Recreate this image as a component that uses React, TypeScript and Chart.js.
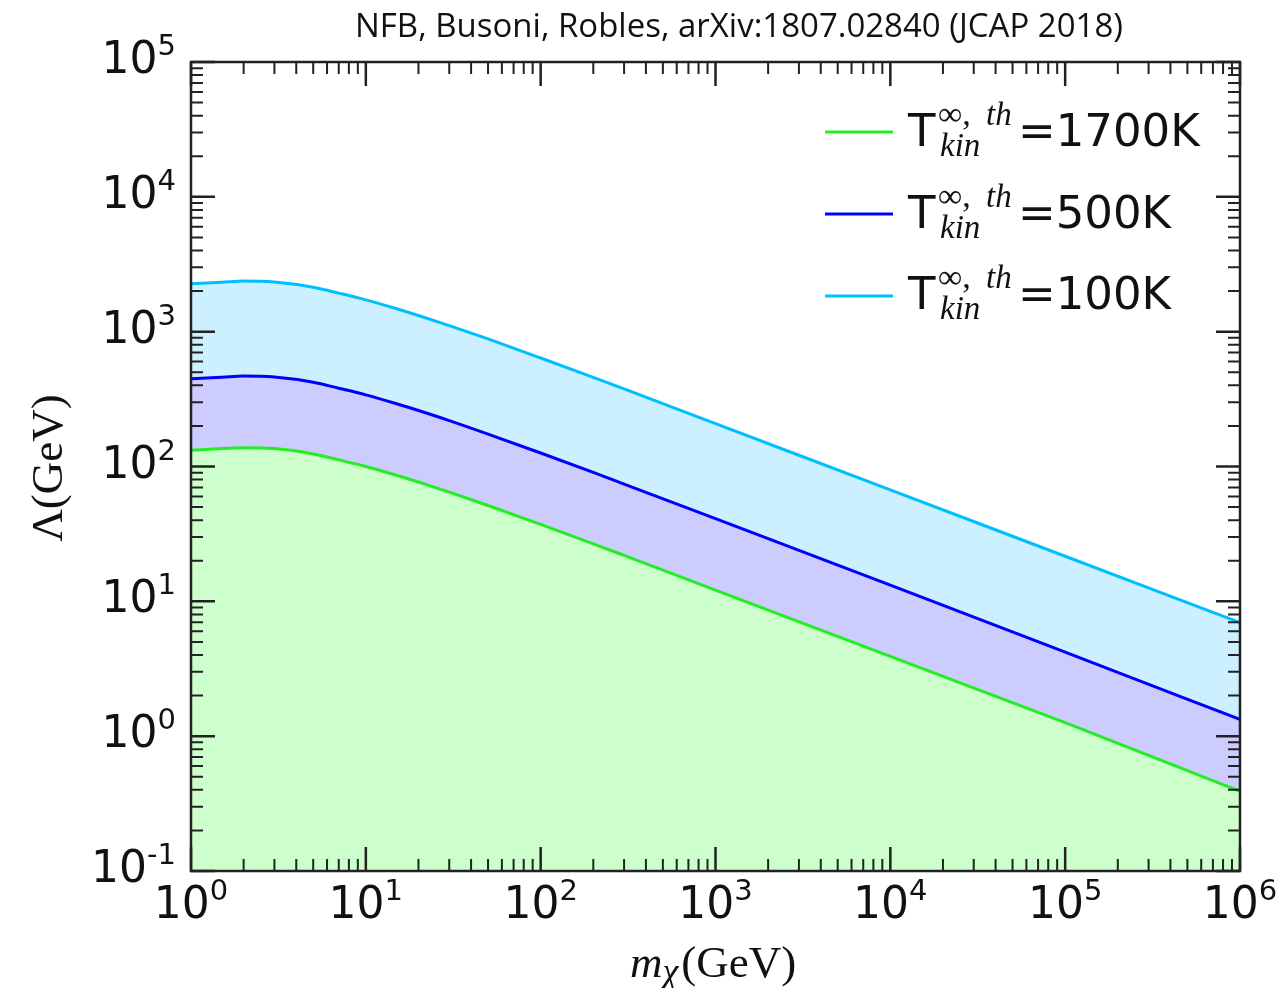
import React, { useEffect, useRef } from "react";
import { Chart, registerables } from "chart.js";

Chart.register(...registerables);

// ---- data ----
const masses = [1, 1.5, 2, 3, 5, 7, 10, 15, 20, 30, 50, 100, 200, 300, 1000, 1e4, 1e5, 1e6];
const lambda1700K = [132, 136, 138, 136, 124, 112, 100, 86.1, 76.7, 64.6, 51.4, 37.2, 26.7, 21.9, 12.1, 3.9, 1.26, 0.39];
const lambda500K = [448, 459, 469, 461, 422, 381, 340, 292, 260, 219, 174, 126, 90.4, 74.1, 41.0, 13.2, 4.2, 1.33];
const lambda100K = [2270, 2328, 2377, 2339, 2138, 1932, 1722, 1479, 1318, 1109, 883, 638, 458, 376, 208, 67.0, 21.6, 6.95];

const seriesLabels = ["=1700K", "=500K", "=100K"];
const lineColors = ["#22ee22", "#0000ff", "#00bfff"];
const fillColors = ["#ccffcc", "#ccccff", "#ccf0ff"];

const xMajorTicks = [1, 10, 100, 1000, 1e4, 1e5, 1e6];
const xTickExponents = ["0", "1", "2", "3", "4", "5", "6"];
const yMajorTicks = [0.1, 1, 10, 100, 1000, 1e4, 1e5];
const yTickExponents = ["-1", "0", "1", "2", "3", "4", "5"];

const titleText = "NFB, Busoni, Robles, arXiv:1807.02840 (JCAP 2018)";

function toPoints(ys: number[]) {
  return masses.map((m, i) => ({ x: m, y: ys[i] }));
}

const overlayPlugin = {
  id: "overlay",
  afterDraw(chart: any) {
    const ctx: CanvasRenderingContext2D = chart.ctx;
    const { left, right, top, bottom } = chart.chartArea;
    const xs = chart.scales.x;
    const ys = chart.scales.y;
    ctx.save();

    // frame
    ctx.strokeStyle = "#222";
    ctx.lineWidth = 2.5;
    ctx.strokeRect(left, top, right - left, bottom - top);

    // ticks
    ctx.lineCap = "butt";
    const majorLen = 24;
    const minorLen = 12;
    const drawX = (v: number, len: number, w: number) => {
      const px = xs.getPixelForValue(v);
      ctx.lineWidth = w;
      ctx.beginPath();
      ctx.moveTo(px, bottom);
      ctx.lineTo(px, bottom - len);
      ctx.moveTo(px, top);
      ctx.lineTo(px, top + len);
      ctx.stroke();
    };
    const drawY = (v: number, len: number, w: number) => {
      const py = ys.getPixelForValue(v);
      ctx.lineWidth = w;
      ctx.beginPath();
      ctx.moveTo(left, py);
      ctx.lineTo(left + len, py);
      ctx.moveTo(right, py);
      ctx.lineTo(right - len, py);
      ctx.stroke();
    };
    for (let i = 0; i < xMajorTicks.length; i++) {
      drawX(xMajorTicks[i], majorLen, 2.5);
      if (i < xMajorTicks.length - 1) {
        for (let k = 2; k <= 9; k++) drawX(xMajorTicks[i] * k, minorLen, 2);
      }
    }
    for (let i = 0; i < yMajorTicks.length; i++) {
      drawY(yMajorTicks[i], majorLen, 2.5);
      if (i < yMajorTicks.length - 1) {
        for (let k = 2; k <= 9; k++) drawY(yMajorTicks[i] * k, minorLen, 2);
      }
    }

    // tick labels
    ctx.fillStyle = "#111";
    ctx.textBaseline = "alphabetic";
    ctx.textAlign = "left";
    const baseFont = '44px "DejaVu Sans"';
    const expFont = '29px "DejaVu Sans"';
    for (let i = 0; i < xMajorTicks.length; i++) {
      const px = xs.getPixelForValue(xMajorTicks[i]);
      ctx.font = baseFont;
      const bw = ctx.measureText("10").width;
      ctx.font = expFont;
      const ew = ctx.measureText(xTickExponents[i]).width;
      const x0 = px - (bw + ew) / 2;
      ctx.font = baseFont;
      ctx.fillText("10", x0, bottom + 47);
      ctx.font = expFont;
      ctx.fillText(xTickExponents[i], x0 + bw, bottom + 29);
    }
    for (let i = 0; i < yMajorTicks.length; i++) {
      const py = ys.getPixelForValue(yMajorTicks[i]);
      ctx.font = baseFont;
      const bw = ctx.measureText("10").width;
      ctx.font = expFont;
      const ew = ctx.measureText(yTickExponents[i]).width;
      const xr = left - 15;
      ctx.font = baseFont;
      ctx.fillText("10", xr - ew - bw, py + 11);
      ctx.font = expFont;
      ctx.fillText(yTickExponents[i], xr - ew, py - 7);
    }

    // axis titles
    ctx.save();
    ctx.translate(47, 468);
    ctx.rotate(-Math.PI / 2);
    ctx.font = '45px "Liberation Serif"';
    ctx.textAlign = "center";
    ctx.fillText("\u039B(GeV)", 0, 15);
    ctx.restore();

    ctx.textAlign = "left";
    ctx.font = 'italic 45px "Liberation Serif"';
    const mx = 630;
    ctx.fillText("m", mx, 977);
    const mw = ctx.measureText("m").width;
    ctx.font = 'italic 36px "Liberation Serif"';
    ctx.fillText("\u03C7", mx + mw, 983);
    const cw = ctx.measureText("\u03C7").width;
    ctx.font = '45px "Liberation Serif"';
    ctx.fillText("(GeV)", mx + mw + cw + 3, 977);

    // title
    ctx.font = '33px "Open Sans"';
    const tw = ctx.measureText(titleText).width;
    ctx.save();
    ctx.translate(355, 37);
    ctx.scale(768 / tw, 1);
    ctx.fillText(titleText, 0, 0);
    ctx.restore();

    // legend
    const rowLineY = [132, 214, 296];
    const rowBase = [146, 228, 309];
    for (let i = 0; i < seriesLabels.length; i++) {
      ctx.strokeStyle = lineColors[i];
      ctx.lineWidth = 3;
      ctx.beginPath();
      ctx.moveTo(825, rowLineY[i]);
      ctx.lineTo(893, rowLineY[i]);
      ctx.stroke();
      const b = rowBase[i];
      ctx.fillStyle = "#111";
      ctx.font = '45px "DejaVu Sans"';
      ctx.fillText("T", 908, b);
      ctx.font = '34px "Liberation Serif"';
      ctx.fillText("\u221E,", 938, b - 21);
      ctx.font = 'italic 33px "Liberation Serif"';
      ctx.fillText("th", 986, b - 21);
      ctx.fillText("kin", 940, b + 10);
      ctx.font = '45px "DejaVu Sans"';
      ctx.fillText(seriesLabels[i], 1018, b);
    }

    ctx.restore();
  },
};

export default function App() {
  const ref = useRef<HTMLCanvasElement | null>(null);
  useEffect(() => {
    document.body.style.margin = "0";
    const canvas = ref.current!;
    const datasets = [lambda1700K, lambda500K, lambda100K].map((ys, i) => ({
      label: seriesLabels[i],
      data: toPoints(ys),
      borderColor: lineColors[i],
      backgroundColor: fillColors[i],
      borderWidth: 3,
      pointRadius: 0,
      cubicInterpolationMode: "monotone" as const,
      fill: i === 0 ? "start" : i - 1,
    }));
    const chart = new Chart(canvas, {
      type: "line",
      data: { datasets },
      options: {
        animation: false,
        responsive: false,
        devicePixelRatio: 1,
        layout: { padding: { left: 191, top: 62, right: 38, bottom: 117 } },
        plugins: { legend: { display: false }, tooltip: { enabled: false }, title: { display: false } },
        scales: {
          x: { type: "logarithmic", min: 1, max: 1e6, display: false },
          y: { type: "logarithmic", min: 0.1, max: 1e5, display: false },
        },
      },
      plugins: [overlayPlugin],
    });
    return () => chart.destroy();
  }, []);
  return (
    <div style={{ width: 1278, height: 988, background: "#fff" }}>
      <canvas ref={ref} width={1278} height={988} style={{ display: "block" }} />
    </div>
  );
}
